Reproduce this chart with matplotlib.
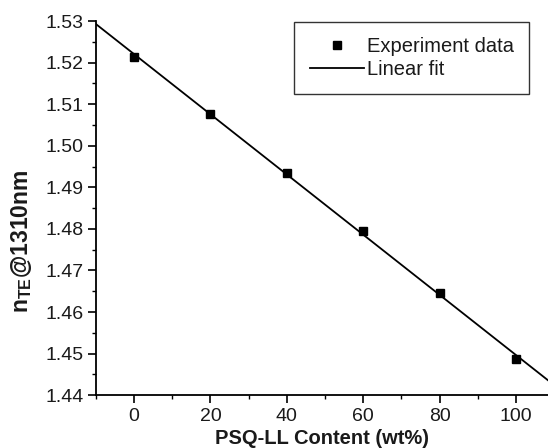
import numpy as np
import matplotlib
matplotlib.use("Agg")
import matplotlib.pyplot as plt
from matplotlib.ticker import MultipleLocator, FormatStrFormatter

plt.rcParams['font.family'] = ['Liberation Sans', 'DejaVu Sans']
plt.rcParams['mathtext.fontset'] = 'custom'
plt.rcParams['mathtext.rm'] = 'Liberation Sans'
plt.rcParams['mathtext.bf'] = 'Liberation Sans:bold'

content = [0, 20, 40, 60, 80, 100]
n_te = [1.5213, 1.5077, 1.4935, 1.4794, 1.4645, 1.4487]

txt = '#1a1a1a'
fig = plt.figure(figsize=(5.48, 4.48), dpi=100)
ax = fig.add_axes([0.175, 0.118, 0.825, 0.835])

ax.plot(content, n_te, 's', color='black', ms=5.5, label='Experiment data', zorder=3)
k, b = np.polyfit(content, n_te, 1)
xf = np.array([-10, 115])
ax.plot(xf, k * xf + b, '-', color='black', lw=1.3, label='Linear fit')

ax.set_xlim(-10, 108.4)
ax.set_ylim(1.44, 1.53)
ax.xaxis.set_major_locator(MultipleLocator(20))
ax.xaxis.set_minor_locator(MultipleLocator(10))
ax.yaxis.set_major_locator(MultipleLocator(0.01))
ax.yaxis.set_minor_locator(MultipleLocator(0.005))
ax.yaxis.set_major_formatter(FormatStrFormatter('%.2f'))

for s in ['top', 'right']:
    ax.spines[s].set_visible(False)
for s in ['left', 'bottom']:
    ax.spines[s].set_linewidth(1.3)
ax.tick_params(which='major', direction='out', length=5.8, width=1.2, labelsize=14,
               pad=3.2, labelcolor=txt)
ax.tick_params(which='minor', direction='out', length=3, width=1.0)

ax.set_xlabel('PSQ-LL Content (wt%)', fontsize=14.5, fontweight='bold', labelpad=3.5, color=txt)
ax.set_ylabel(r'n$_{\mathbf{TE}}$@1310nm', fontsize=16.5, fontweight='bold', color=txt)
ax.yaxis.set_label_coords(-0.138, 0.412)

leg = ax.legend(loc='upper right', bbox_to_anchor=(0.958, 0.997), fontsize=14.5,
                frameon=True, fancybox=False, edgecolor='black', handlelength=2.7,
                borderpad=0.75, labelspacing=0.2, handletextpad=0.15, borderaxespad=0)
leg.get_frame().set_linewidth(1.0)
for t in leg.get_texts():
    t.set_color(txt)

fig.savefig('out.png', dpi=100)
